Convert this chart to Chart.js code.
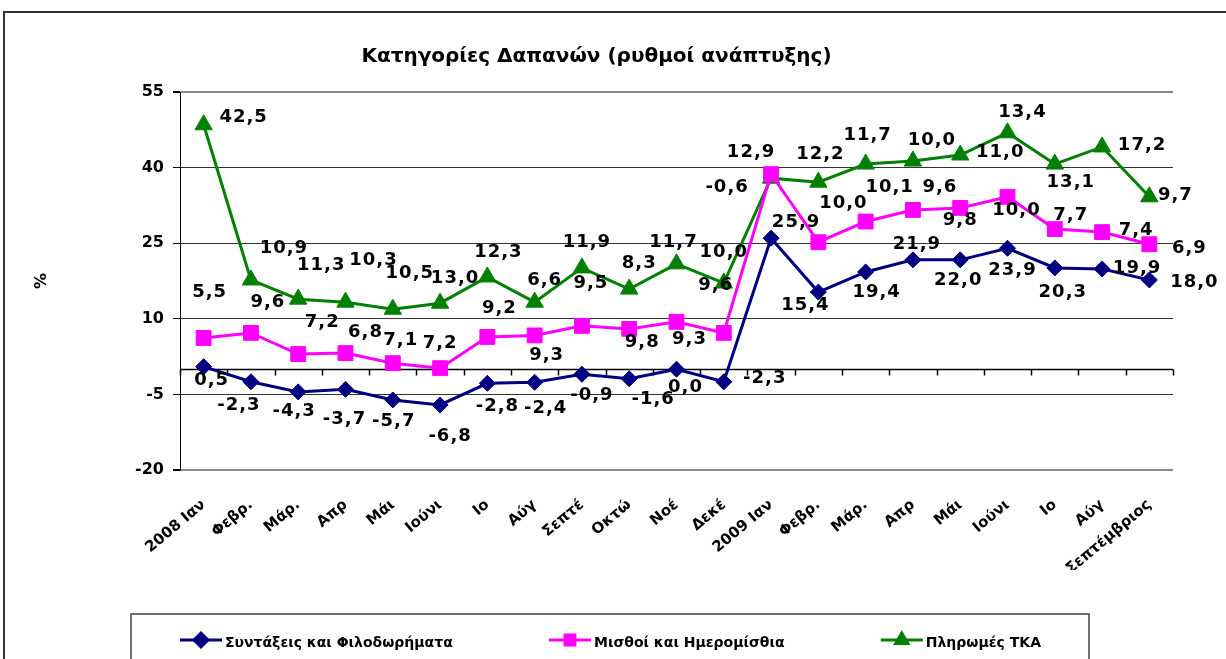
<!DOCTYPE html>
<html lang="el">
<head>
<meta charset="utf-8">
<title>Κατηγορίες Δαπανών</title>
<script src="https://cdn.jsdelivr.net/npm/chart.js@4.4.1/dist/chart.umd.min.js"></script>
<style>
  html, body { margin: 0; padding: 0; background: #fff; }
  #wrap { width: 1226px; height: 659px; }
</style>
</head>
<body>
<div id="wrap"><canvas id="grafico" width="1226" height="659"></canvas></div>
<script>
// Κατηγορίες (μήνες) - όπως φαίνονται κομμένες στο πρωτότυπο
const meses = ['2008 Ιαν', 'Φεβρ.', 'Μάρ.', 'Απρ', 'Μάι', 'Ιούνι', 'Ιο', 'Αύγ', 'Σεπτέ', 'Οκτώ', 'Νοέ', 'Δεκέ',
               '2009 Ιαν', 'Φεβρ.', 'Μάρ.', 'Απρ', 'Μάι', 'Ιούνι', 'Ιο', 'Αύγ', 'Σεπτέμβριος'];

// Θέσεις σημείων (όπως σχεδιάζονται)
const syntaxeis = [0.5, -2.5, -4.5, -4.0, -6.1, -7.1, -2.8, -2.6, -1.0, -1.9, 0.0, -2.5,
                   26.0, 15.3, 19.3, 21.7, 21.7, 24.0, 20.1, 19.9, 17.7];
const misthoi   = [6.2, 7.2, 3.0, 3.2, 1.2, 0.2, 6.4, 6.7, 8.6, 8.0, 9.4, 7.2,
                   38.7, 25.2, 29.3, 31.6, 32.0, 34.2, 27.8, 27.2, 24.8];
const tka       = [48.5, 17.7, 13.9, 13.3, 11.9, 13.1, 18.3, 13.3, 20.1, 15.9, 20.9, 17.1,
                   37.9, 37.1, 40.7, 41.3, 42.5, 46.9, 40.7, 44.1, 34.2];

// Ετικέτες τιμών (όπως γράφονται στο διάγραμμα)
const syntaxeisEtiketes = [0.5, -2.3, -4.3, -3.7, -5.7, -6.8, -2.8, -2.4, -0.9, -1.6, 0.0, -2.3,
                           25.9, 15.4, 19.4, 21.9, 22.0, 23.9, 20.3, 19.9, 18.0];
const misthoiEtiketes   = [5.5, 9.6, 7.2, 6.8, 7.1, 7.2, 9.2, 9.3, 9.5, 9.8, 9.3, 9.6,
                           12.9, 10.0, 10.1, 9.6, 9.8, 10.0, 7.7, 7.4, 6.9];
const tkaEtiketes       = [42.5, 10.9, 11.3, 10.3, 10.5, 13.0, 12.3, 6.6, 11.9, 8.3, 11.7, 10.0,
                           -0.6, 12.2, 11.7, 10.0, 11.0, 13.4, 13.1, 17.2, 9.7];

// Άξονας y
const yMin = -20, yMax = 55, yStep = 15;

// Μετατόπιση ετικετών (px) σε σχέση με το σημείο
const offSyntaxeis = [[8,14],[-12,24],[-4,19],[-1,30],[1,21],[10,31],[10,23],[11,26],[10,21],[24,21],[9,18],[41,-3],
                      [25,-16],[-13,13],[11,20],[4,-16],[-2,20],[5,22],[8,24],[35,-1],[45,2]];
const offMisthoi   = [[6,-46],[17,-31],[24,-32],[20,-21],[8,-23],[0,-25],[12,-29],[12,20],[9,-43],[13,13],[13,18],[-8,-48],
                      [-20,-22],[25,-39],[24,-34],[27,-23],[0,12],[9,13],[16,-14],[34,-2],[40,4]];
const offTka       = [[40,-7],[33,-32],[23,-34],[28,-42],[17,-36],[15,-25],[11,-25],[10,-22],[5,-26],[10,-26],[-3,-22],[0,-31],
                      [-44,9],[2,-28],[2,-29],[19,-21],[40,-3],[15,-20],[16,18],[40,-2],[26,-2]];

const FONT = "'DejaVu Sans', Verdana, sans-serif";

const cores = {
    navy: '#000080',
    magenta: '#FF00FF',
    green: '#008000'
};

function fmt(v) {
    return v.toFixed(1).replace('.', ',');
}

// Πλαίσιο γύρω από το διάγραμμα
const pluginPlaisio = {
    id: 'plaisio',
    beforeDraw(chart) {
        const ctx = chart.ctx;
        ctx.save();
        ctx.fillStyle = '#fff';
        ctx.fillRect(0, 0, chart.width, chart.height);
        ctx.strokeStyle = '#333';
        ctx.lineWidth = 2;
        ctx.beginPath();
        ctx.moveTo(chart.width, 12);
        ctx.lineTo(4, 12);
        ctx.lineTo(4, chart.height);
        ctx.stroke();
        ctx.restore();
    }
};

// Άξονας κατηγοριών στο μηδέν με υποδιαιρέσεις
const pluginMidenikos = {
    id: 'midenikos',
    beforeDatasetsDraw(chart) {
        const ctx = chart.ctx;
        const x = chart.scales.x, y = chart.scales.y;
        const y0 = Math.round(y.getPixelForValue(0)) + 0.5;
        const area = chart.chartArea;
        ctx.save();
        ctx.strokeStyle = '#000';
        ctx.lineWidth = 1.5;
        ctx.beginPath();
        ctx.moveTo(area.left, y0);
        ctx.lineTo(area.right, y0);
        const n = meses.length;
        const passo = (x.getPixelForValue(n - 1) - x.getPixelForValue(0)) / (n - 1);
        for (let i = 0; i <= n; i++) {
            const px = Math.round(x.getPixelForValue(i) - passo / 2) + 0.5;
            ctx.moveTo(px, y0);
            ctx.lineTo(px, y0 + 6);
        }
        ctx.stroke();
        ctx.restore();
    }
};

// Ετικέτες τιμών
const pluginEtiketes = {
    id: 'etiketes',
    afterDatasetsDraw(chart) {
        const ctx = chart.ctx;
        const grupos = [
            [0, syntaxeisEtiketes, offSyntaxeis],
            [1, misthoiEtiketes, offMisthoi],
            [2, tkaEtiketes, offTka]
        ];
        ctx.save();
        ctx.font = `bold 18px ${FONT}`;
        ctx.letterSpacing = '1px';
        ctx.fillStyle = '#000';
        ctx.textAlign = 'center';
        ctx.textBaseline = 'middle';
        grupos.forEach(([idx, valores, offs]) => {
            const meta = chart.getDatasetMeta(idx);
            meta.data.forEach((pt, i) => {
                ctx.fillText(fmt(valores[i]), pt.x + offs[i][0], pt.y + offs[i][1]);
            });
        });
        ctx.restore();
    }
};

// Υπόμνημα σε πλαίσιο
const pluginYpomnima = {
    id: 'ypomnima',
    afterDraw(chart) {
        const ctx = chart.ctx;
        const box = { left: 131, top: 614, right: 1089 };
        ctx.save();
        ctx.strokeStyle = '#444';
        ctx.lineWidth = 1.5;
        ctx.beginPath();
        ctx.moveTo(box.left, chart.height + 5);
        ctx.lineTo(box.left, box.top);
        ctx.lineTo(box.right, box.top);
        ctx.lineTo(box.right, chart.height + 5);
        ctx.stroke();

        ctx.font = `bold 14px ${FONT}`;
        ctx.textBaseline = 'middle';
        ctx.textAlign = 'left';
        const linha = 42, gap = 3;
        const ds = chart.data.datasets;
        const larguras = ds.map(d => linha + gap + ctx.measureText(d.label).width);
        const total = larguras.reduce((a, b) => a + b, 0);
        const esq = 49, dir = 48;
        const espaco = (box.right - box.left - esq - dir - total) / (ds.length - 1);
        let x = box.left + esq;
        const yl = 640;
        ds.forEach((d, i) => {
            ctx.strokeStyle = d.borderColor;
            ctx.lineWidth = 3;
            ctx.beginPath();
            ctx.moveTo(x, yl);
            ctx.lineTo(x + linha, yl);
            ctx.stroke();
            ctx.fillStyle = d.borderColor;
            Chart.helpers.drawPoint(ctx, { pointStyle: d.pointStyle, radius: 7, borderWidth: 1 }, x + linha / 2, yl);
            ctx.fill();
            ctx.fillStyle = '#000';
            ctx.fillText(d.label, x + linha + gap, yl + 3);
            x += larguras[i] + espaco;
        });
        ctx.restore();
    }
};

const ctx = document.getElementById('grafico').getContext('2d');
new Chart(ctx, {
    type: 'line',
    data: {
        labels: meses,
        datasets: [{
            label: 'Συντάξεις και Φιλοδωρήματα',
            data: syntaxeis,
            borderColor: cores.navy,
            backgroundColor: cores.navy,
            borderWidth: 3,
            pointStyle: 'rectRot',
            pointRadius: 8,
            pointBorderWidth: 1,
            tension: 0
        }, {
            label: 'Μισθοί και Ημερομίσθια',
            data: misthoi,
            borderColor: cores.magenta,
            backgroundColor: cores.magenta,
            borderWidth: 3,
            pointStyle: 'rect',
            pointRadius: 10.5,
            pointBorderWidth: 1,
            tension: 0
        }, {
            label: 'Πληρωμές ΤΚΑ',
            data: tka,
            borderColor: cores.green,
            backgroundColor: cores.green,
            borderWidth: 3,
            pointStyle: 'triangle',
            pointRadius: 10,
            pointBorderWidth: 1,
            tension: 0
        }]
    },
    options: {
        responsive: false,
        animation: false,
        devicePixelRatio: 1,
        layout: { padding: { top: 20, left: 20, right: 53, bottom: 89 } },
        plugins: {
            legend: { display: false },
            tooltip: { enabled: false },
            title: {
                display: true,
                text: 'Κατηγορίες Δαπανών (ρυθμοί ανάπτυξης)',
                color: '#000',
                font: { family: FONT, size: 20, weight: 'bold' },
                padding: { top: 25, bottom: 23 }
            }
        },
        scales: {
            x: {
                offset: true,
                grid: { display: false },
                border: { display: false },
                ticks: {
                    color: '#000',
                    font: { family: FONT, size: 15, weight: 'bold' },
                    maxRotation: 40,
                    minRotation: 40,
                    autoSkip: false,
                    padding: 18
                },
                afterFit: s => { s.height = 100; }
            },
            y: {
                min: yMin,
                max: yMax,
                ticks: {
                    stepSize: yStep,
                    color: '#000',
                    padding: 9,
                    font: { family: FONT, size: 16, weight: 'bold' }
                },
                grid: {
                    color: c => (c.tick && (c.tick.value === yMax || c.tick.value === yMin)) ? '#888' : '#333',
                    lineWidth: c => (c.tick && (c.tick.value === yMax || c.tick.value === yMin)) ? 2 : 1,
                    tickColor: '#000',
                    tickLength: 7
                },
                border: { display: true, color: '#000', width: 1 },
                title: {
                    display: true,
                    text: '%',
                    color: '#000',
                    font: { family: FONT, size: 16, weight: 'bold' },
                    padding: { top: 12, bottom: 0 }
                },
                afterFit: s => { s.width = 160; }
            }
        }
    },
    plugins: [pluginPlaisio, pluginMidenikos, pluginEtiketes, pluginYpomnima]
});
</script>
</body>
</html>
